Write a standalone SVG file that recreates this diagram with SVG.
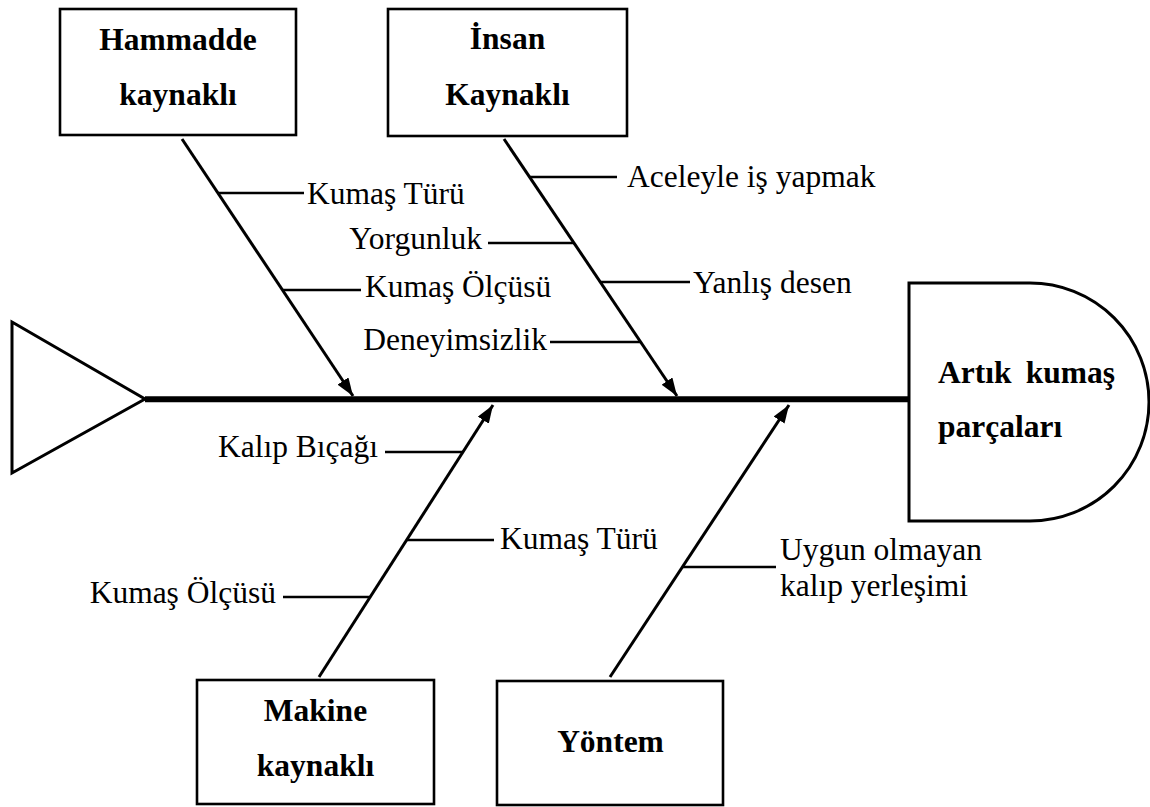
<svg xmlns="http://www.w3.org/2000/svg" width="1150" height="807" viewBox="0 0 1150 807">
  <style>
    .box { fill: #fff; stroke: #000; stroke-width: 2.6; }
    .shape { fill: #fff; stroke: #000; stroke-width: 3; }
    .bone { stroke: #000; stroke-width: 3; fill: none; }
    .twig { stroke: #000; stroke-width: 2.6; fill: none; }
    .lbl { font-family: "Liberation Serif", "Times New Roman", serif; font-size: 31.5px; fill: #000; }
    .hd { font-family: "Liberation Serif", "Times New Roman", serif; font-size: 31.5px; font-weight: bold; fill: #000; }
    .c { text-anchor: middle; }
    .e { text-anchor: end; }
  </style>
  <defs>
    <marker id="arrow" markerUnits="userSpaceOnUse" markerWidth="18" markerHeight="13" refX="18" refY="6.5" orient="auto">
      <path d="M0,0 L18,6.5 L0,13 Z" fill="#000"/>
    </marker>
  </defs>
  <rect width="1150" height="807" fill="#fff"/>

  <g id="tail">
    <polygon class="shape" points="12,322 145,399 12,473"/>
  </g>

  <g id="spine">
    <line x1="145" y1="399.3" x2="909" y2="399.3" stroke="#000" stroke-width="6"/>
  </g>

  <g id="head">
    <path class="shape" d="M909,283 H1030 A119,119 0 0 1 1030,521 H909 Z"/>
    <text class="hd" x="938" y="383">Artık</text>
    <text class="hd e" x="1115" y="383">kumaş</text>
    <text class="hd" x="938" y="437">parçaları</text>
  </g>

  <g id="connectors">
    <line class="bone" x1="182" y1="139" x2="353" y2="396" marker-end="url(#arrow)"/>
    <line class="bone" x1="504" y1="139" x2="677" y2="396" marker-end="url(#arrow)"/>
    <line class="bone" x1="319" y1="677" x2="493" y2="405" marker-end="url(#arrow)"/>
    <line class="bone" x1="610" y1="677" x2="789" y2="405" marker-end="url(#arrow)"/>

    <line class="twig" x1="218" y1="193" x2="304" y2="193"/>
    <line class="twig" x1="282" y1="290" x2="361" y2="290"/>
    <line class="twig" x1="530" y1="177" x2="617" y2="177"/>
    <line class="twig" x1="488" y1="243" x2="574" y2="243"/>
    <line class="twig" x1="600" y1="282" x2="690" y2="282"/>
    <line class="twig" x1="550" y1="342" x2="640" y2="342"/>
    <line class="twig" x1="385" y1="452" x2="463" y2="452"/>
    <line class="twig" x1="407" y1="540" x2="494" y2="540"/>
    <line class="twig" x1="283" y1="597" x2="370" y2="597"/>
    <line class="twig" x1="682" y1="567" x2="776" y2="567"/>
  </g>

  <g id="hammadde">
    <rect class="box" x="60" y="9" width="236" height="126"/>
    <text class="hd c" x="178" y="50">Hammadde</text>
    <text class="hd c" x="178" y="105">kaynaklı</text>
  </g>

  <g id="insan">
    <rect class="box" x="388" y="9" width="239" height="127"/>
    <text class="hd c" x="507.5" y="49">İnsan</text>
    <text class="hd c" x="507.5" y="105">Kaynaklı</text>
  </g>

  <g id="makine">
    <rect class="box" x="197" y="680" width="237" height="124"/>
    <text class="hd c" x="315.5" y="721">Makine</text>
    <text class="hd c" x="315.5" y="776">kaynaklı</text>
  </g>

  <g id="yontem">
    <rect class="box" x="497" y="681" width="226" height="124"/>
    <text class="hd c" x="610.5" y="752">Yöntem</text>
  </g>

  <g id="labels">
    <text class="lbl" x="307" y="204">Kumaş Türü</text>
    <text class="lbl" x="365" y="297">Kumaş Ölçüsü</text>
    <text class="lbl e" x="482" y="249">Yorgunluk</text>
    <text class="lbl e" x="547" y="350">Deneyimsizlik</text>
    <text class="lbl" x="627" y="187">Aceleyle iş yapmak</text>
    <text class="lbl" x="693" y="293">Yanlış desen</text>
    <text class="lbl e" x="378" y="457">Kalıp Bıçağı</text>
    <text class="lbl" x="500" y="549">Kumaş Türü</text>
    <text class="lbl e" x="276" y="603">Kumaş Ölçüsü</text>
    <text class="lbl" x="780" y="560">Uygun olmayan</text>
    <text class="lbl" x="780" y="596">kalıp yerleşimi</text>
  </g>
</svg>
